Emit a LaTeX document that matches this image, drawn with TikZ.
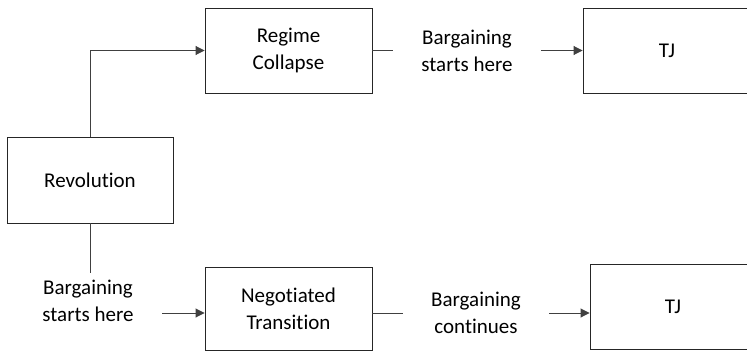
\documentclass[tikz,border=0pt]{standalone}
\usepackage{fontspec}
\setmainfont{Carlito}[Ligatures={NoCommon,NoContextual}]
\usetikzlibrary{arrows.meta}
\tikzset{
  stagebox/.style={draw=black!85, line width=0.9pt, align=center, inner sep=0pt},
  phase/.style={align=center, inner sep=0pt},
  link/.style={draw=black!75, line width=0.9pt},
  linkarrow/.style={link, -{Triangle[length=9pt,width=9pt]}}
}
\begin{document}
\begin{tikzpicture}[x=1pt,y=1pt,yscale=-1,xscale=1,font=\fontsize{21}{27}\selectfont]
\clip (0,0) rectangle (747,351);

% Boxes
\node [stagebox, minimum width=166pt, minimum height=86pt] (rev) at (90,180) {Revolution};
\node [stagebox, minimum width=167pt, minimum height=85pt] (regime) at (288.5,50.5) {Regime\\Collapse};
\node [stagebox, minimum width=168pt, minimum height=85pt] (tjtop) at (667,50.5) {TJ};
\node [stagebox, minimum width=167pt, minimum height=83pt] (neg) at (288.5,308.5) {Negotiated\\Transition};
\node [stagebox, minimum width=166pt, minimum height=85pt] (tjbot) at (673,306.5) {TJ};

% Text Node
\node [phase, inner xsep=28pt] (bartop) at (467,50.5) {Bargaining\\starts here};
% Text Node
\node [phase, inner ysep=7pt] (barleft) at (88,301) {Bargaining\\starts here};
% Text Node
\node [phase, inner xsep=28pt] (barcont) at (476,313) {Bargaining\\continues};
\coordinate (startleft) at (162,313);

% Connectors
\draw [linkarrow] (rev.north) |- (regime.west);
\draw [link] (regime.east) -- (bartop.west);
\draw [linkarrow] (bartop.east) -- (tjtop.west |- bartop.east);
\draw [link] (rev.south) -- (rev.south |- barleft.north);
\draw [linkarrow] (startleft) -- (neg.west |- startleft);
\draw [link] (neg.east |- barcont.west) -- (barcont.west);
\draw [linkarrow] (barcont.east) -- (tjbot.west |- barcont.east);

\end{tikzpicture}
\end{document}
